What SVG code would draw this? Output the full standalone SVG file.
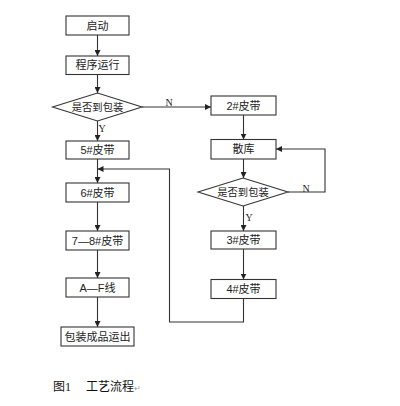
<svg xmlns="http://www.w3.org/2000/svg" width="400" height="406" viewBox="0 0 400 406">
<defs>
<style>
.box{fill:#fff;stroke:#333;stroke-width:1.1}
.t{font-family:"Liberation Sans","Noto Sans CJK SC",sans-serif;font-size:11px;fill:#222;text-anchor:middle;dominant-baseline:central}
.d{font-size:10.3px}
.lbl{font-family:"Liberation Serif",serif;font-size:10px;fill:#222;text-anchor:middle;dominant-baseline:central}
.c{fill:none;stroke:#333;stroke-width:1.1}
.cap{font-family:"Liberation Serif","Noto Sans CJK SC",serif;font-size:12px;fill:#111}
</style>
<marker id="ah" viewBox="0 0 10 10" refX="10" refY="5" markerWidth="6" markerHeight="6" markerUnits="userSpaceOnUse" orient="auto">
<path d="M0,0 L10,5 L0,10 z" fill="#222"/>
</marker>
</defs>
<rect width="400" height="406" fill="#fff"/>
<g id="connectors">
<line class="c" x1="97.5" y1="35" x2="97.5" y2="56" marker-end="url(#ah)"/>
<line class="c" x1="97.5" y1="74.5" x2="97.5" y2="93" marker-end="url(#ah)"/>
<line class="c" x1="97.5" y1="121" x2="97.5" y2="141" marker-end="url(#ah)"/>
<line class="c" x1="97.5" y1="159" x2="97.5" y2="183" marker-end="url(#ah)"/>
<line class="c" x1="97.5" y1="202" x2="97.5" y2="231" marker-end="url(#ah)"/>
<line class="c" x1="97.5" y1="250" x2="97.5" y2="278" marker-end="url(#ah)"/>
<line class="c" x1="97.5" y1="297" x2="97.5" y2="327" marker-end="url(#ah)"/>
<line class="c" x1="142" y1="107" x2="211" y2="107" marker-end="url(#ah)"/>
<line class="c" x1="243.5" y1="115" x2="243.5" y2="139.5" marker-end="url(#ah)"/>
<line class="c" x1="243.5" y1="159" x2="243.5" y2="178" marker-end="url(#ah)"/>
<line class="c" x1="243.5" y1="206" x2="243.5" y2="231" marker-end="url(#ah)"/>
<line class="c" x1="243.5" y1="249" x2="243.5" y2="279.5" marker-end="url(#ah)"/>
<polyline class="c" points="288,192 325,192 325,149 276,149" marker-end="url(#ah)"/>
<polyline class="c" points="243.5,298.5 243.5,322 169.5,322 169.5,169 97.5,169" marker-end="url(#ah)"/>
<text class="lbl" x="169" y="102">N</text>
<text class="lbl" x="102" y="128">Y</text>
<text class="lbl" x="306" y="188">N</text>
<text class="lbl" x="249" y="217">Y</text>
</g>
<g id="n1"><rect class="box" x="66" y="16" width="63" height="19"/><text class="t" x="97.5" y="25.5">启动</text></g>
<g id="n2"><rect class="box" x="66" y="56" width="63" height="18.5"/><text class="t" x="97.5" y="65.3">程序运行</text></g>
<g id="n3"><polygon class="box" points="52.5,107 97.5,93 142,107 97.5,121"/><text class="t d" x="97.5" y="107.5">是否到包装</text></g>
<g id="n4"><rect class="box" x="66" y="141" width="63" height="18"/><text class="t" x="97.5" y="150">5#皮带</text></g>
<g id="n5"><rect class="box" x="66" y="183" width="63" height="19"/><text class="t" x="97.5" y="192.5">6#皮带</text></g>
<g id="n6"><rect class="box" x="66" y="231" width="63" height="19"/><text class="t" x="97.5" y="240.5">7—8#皮带</text></g>
<g id="n7"><rect class="box" x="66" y="278" width="63" height="19"/><text class="t" x="97.5" y="287.5">A—F线</text></g>
<g id="n8"><rect class="box" x="61" y="327" width="73" height="19"/><text class="t" x="97.5" y="336.5">包装成品运出</text></g>
<g id="n9"><rect class="box" x="211" y="96" width="65" height="19"/><text class="t" x="243.5" y="105.5">2#皮带</text></g>
<g id="n10"><rect class="box" x="211" y="139.5" width="65" height="19.5"/><text class="t" x="243.5" y="149.3">散库</text></g>
<g id="n11"><polygon class="box" points="198,192 243,178 288,192 243,206"/><text class="t d" x="243" y="192.5">是否到包装</text></g>
<g id="n12"><rect class="box" x="211" y="231" width="65" height="18"/><text class="t" x="243.5" y="240">3#皮带</text></g>
<g id="n13"><rect class="box" x="211" y="279.5" width="65" height="19"/><text class="t" x="243.5" y="289">4#皮带</text></g>
<g id="caption">
<text class="cap" x="53" y="391">图1</text>
<text class="cap" x="86" y="391">工艺流程<tspan fill="#999" font-size="8">↵</tspan></text>
</g>
</svg>
